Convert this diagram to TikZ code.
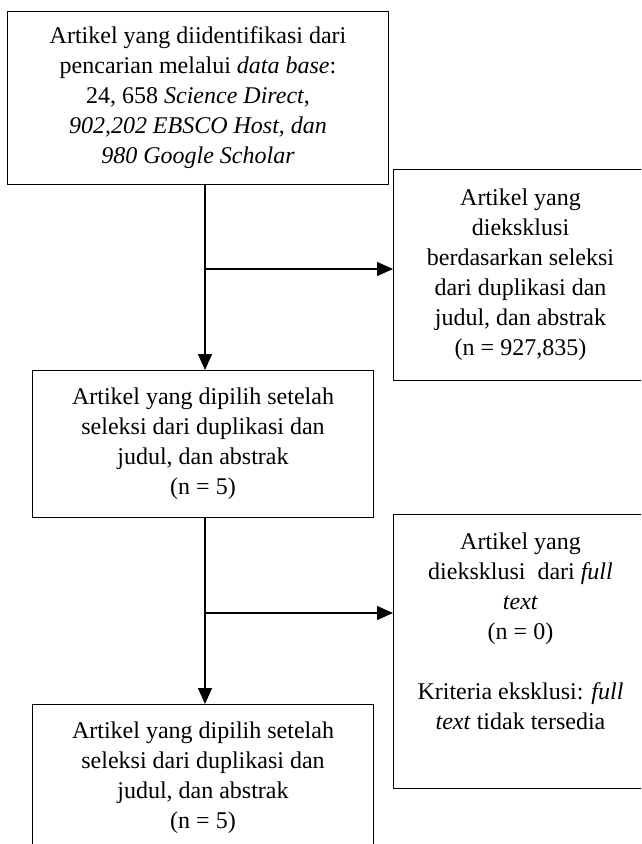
\documentclass[tikz,border=0pt]{standalone}
\usepackage{fontspec}
\setmainfont{Liberation Serif}
\usetikzlibrary{arrows.meta,positioning}

\begin{document}
\begin{tikzpicture}[x=1pt,y=-1pt,
		kotak/.style={draw,line width=1pt,inner sep=0pt,align=center,anchor=north west,font=\fontsize{24}{30}\selectfont},
		panah/.style={line width=1.3pt,-{Triangle[length=16pt,width=14pt]}}]
		\useasboundingbox (0,0) rectangle (641,844);
		\clip (0,0) rectangle (641,844);
		% kotak alur
		\node[kotak,minimum width=381pt,minimum height=173pt] (cari) at (7,11) {Artikel yang diidentifikasi dari\\ pencarian melalui \textit{data base}:\\ 24, 658 \textit{Science Direct},\\ \textit{902,202 EBSCO Host, dan}\\ \textit{980 Google Scholar}};
		\node[kotak,minimum width=254pt,minimum height=211pt] (eksklusiA) at (393,169) {Artikel yang\\ dieksklusi\\ berdasarkan seleksi\\ dari duplikasi dan\\ judul, dan abstrak\\ (n = 927,835)};
		\node[kotak,minimum width=341pt,minimum height=147pt] (pilihA) at (32,370) {Artikel yang dipilih setelah\\ seleksi dari duplikasi dan\\ judul, dan abstrak\\ (n = 5)};
		\node[kotak,minimum width=254pt,minimum height=274pt] (eksklusiB) at (393,514) {Artikel yang\\ dieksklusi\ \ dari \textit{full}\\ \textit{text}\\ (n = 0)\\[30pt] Kriteria eksklusi: \textit{full}\\ \textit{text} tidak tersedia\\ \rule{0pt}{39pt}};
		\node[kotak,minimum width=341pt,minimum height=147pt,below=186pt of pilihA] (pilihB) {Artikel yang dipilih setelah\\ seleksi dari duplikasi dan\\ judul, dan abstrak\\ (n = 5)};
		
		% panah
		\coordinate (cabangA) at (205,269);
		\coordinate (cabangB) at (205,613);
		\draw[panah] (cari.south -| cabangA) -- (pilihA.north -| cabangA);
		\draw[panah] (cabangA) -- (cabangA -| eksklusiA.west);
		\draw[panah] (pilihA.south -| cabangB) -- (pilihB.north -| cabangB);
		\draw[panah] (cabangB) -- (cabangB -| eksklusiB.west);
	\end{tikzpicture}
\end{document}
